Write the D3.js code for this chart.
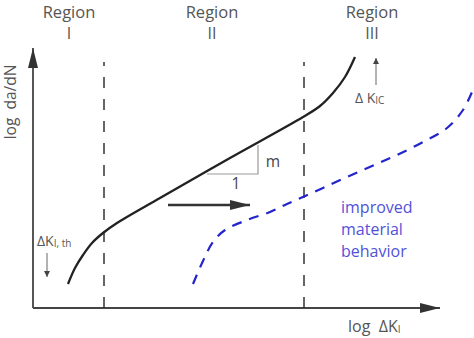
<!DOCTYPE html>
<html>
<head>
<meta charset="utf-8">
<script src="https://cdn.jsdelivr.net/npm/d3@7"></script>
<style>
  html, body { margin: 0; padding: 0; background: #fff; }
  svg { display: block; font-family: "Open Sans", "DejaVu Sans", sans-serif; }
</style>
</head>
<body>
<svg id="chart" width="474" height="338"></svg>
<script>
// Schematic fatigue crack growth curve (log da/dN vs log ΔK), arbitrary log units
const regionNames = ["I", "II", "III"];
const regionLabelX = [9, 44.75, 84.75];
const regionBounds = [17.75, 67.75];

// Reference material: threshold knee, Paris regime, unstable growth
const baseCurve = [
  [8.75, 6], [10.5, 10], [12.5, 13.25], [14.75, 16.25], [17.5, 18.75],
  [21, 21.25], [31.75, 27.5], [49.25, 37.5], [67.5, 47.75],
  [71.75, 50.5], [75, 53.75], [78, 57.75], [80.5, 62.75]
];

// Improved material: curve shifted towards higher ΔK
const improvedCurve = [
  [40, 6], [42.5, 11.75], [45, 16.5], [48, 19.5], [53.5, 22],
  [59.25, 24], [63.5, 26], [67.5, 27.75], [72.5, 30], [78.5, 32.75],
  [84.75, 35.5], [91, 38.25], [97.5, 41.5], [103.5, 45], [107.5, 49.5], [109.75, 54]
];

// Slope triangle (run 1, rise m)
const slopeTriangle = [[43.5, 33.5], [56.25, 33.5], [56.25, 40.75]];
const shiftArrow = [[33.75, 25.75], [54.25, 25.75]];
const thresholdArrow = [[3.5, 13.75], [3.5, 7.75]];
const criticalArrow = [[85.75, 55.75], [85.75, 62.5]];
const improvedLines = ["improved", "material", "behavior"];

const svg = d3.select("#chart");
const x = d3.scaleLinear().domain([0, 100]).range([33, 433]);
const y = d3.scaleLinear().domain([0, 65]).range([308, 48]);

const textColor = "#555";
const lineColor = "#222";
const blue = "#2424cc";

const defs = svg.append("defs");
function marker(id, len, wid, color) {
  defs.append("marker")
    .attr("id", id)
    .attr("markerUnits", "userSpaceOnUse")
    .attr("viewBox", `0 ${-wid / 2} ${len} ${wid}`)
    .attr("refX", len).attr("refY", 0)
    .attr("markerWidth", len).attr("markerHeight", wid)
    .attr("orient", "auto")
    .append("path")
    .attr("d", `M0,${-wid / 2}L${len},0L0,${wid / 2}Z`)
    .attr("fill", color);
}
marker("axisHead", 20, 10, "#333");
marker("bigHead", 20, 10, "#333");
marker("smallHead", 6, 6, "#444");

const line = d3.line().x(d => x(d[0])).y(d => y(d[1]));
const smooth = d3.line().x(d => x(d[0])).y(d => y(d[1])).curve(d3.curveCatmullRom.alpha(0.5));

// Axes
svg.append("path")
  .attr("d", line([[0, 0], [101.75, 0]]))
  .attr("stroke", "#444").attr("stroke-width", 1.8).attr("fill", "none")
  .attr("marker-end", "url(#axisHead)");
svg.append("path")
  .attr("d", line([[0, 0], [0, 65]]))
  .attr("stroke", "#444").attr("stroke-width", 1.8).attr("fill", "none")
  .attr("marker-end", "url(#axisHead)");

// Region boundaries
svg.selectAll("line.bound").data(regionBounds).join("line")
  .attr("class", "bound")
  .attr("x1", d => x(d)).attr("x2", d => x(d))
  .attr("y1", y(0)).attr("y2", y(61.5))
  .attr("stroke", "#333").attr("stroke-width", 1.5)
  .attr("stroke-dasharray", "11 11");

// Region labels
const rg = svg.selectAll("g.region").data(regionNames).join("g").attr("class", "region");
rg.append("text")
  .attr("x", (d, i) => x(regionLabelX[i])).attr("y", 18)
  .attr("text-anchor", "middle").attr("font-size", 16.5).attr("fill", textColor)
  .text("Region");
rg.append("text")
  .attr("x", (d, i) => x(regionLabelX[i])).attr("y", 39)
  .attr("text-anchor", "middle").attr("font-size", 16).attr("fill", textColor)
  .text(d => d);

// Curves
svg.append("path").attr("d", smooth(baseCurve))
  .attr("fill", "none").attr("stroke", lineColor).attr("stroke-width", 2.3);
svg.append("path").attr("d", smooth(improvedCurve))
  .attr("fill", "none").attr("stroke", blue).attr("stroke-width", 2.2)
  .attr("stroke-dasharray", "10 8");

// Slope triangle
svg.append("path").attr("d", line(slopeTriangle))
  .attr("fill", "none").attr("stroke", "#999").attr("stroke-width", 1.2);
svg.append("text").attr("x", x(60)).attr("y", y(35.25))
  .attr("text-anchor", "middle").attr("font-size", 15.5).attr("fill", "#444").text("m");
svg.append("text").attr("x", x(50.75)).attr("y", y(29.75))
  .attr("text-anchor", "middle").attr("font-size", 15.5).attr("fill", "#444").text("1");

// Shift arrow
svg.append("path").attr("d", line(shiftArrow))
  .attr("stroke", "#333").attr("stroke-width", 2.5).attr("fill", "none")
  .attr("marker-end", "url(#bigHead)");

// Threshold and critical arrows
svg.append("path").attr("d", line(thresholdArrow))
  .attr("stroke", "#666").attr("stroke-width", 1).attr("fill", "none")
  .attr("marker-end", "url(#smallHead)");
svg.append("path").attr("d", line(criticalArrow))
  .attr("stroke", "#666").attr("stroke-width", 1).attr("fill", "none")
  .attr("marker-end", "url(#smallHead)");

// ΔK_I,th label
const th = svg.append("text").attr("x", x(1)).attr("y", y(15.5))
  .attr("font-size", 14).attr("fill", textColor);
th.append("tspan").text("ΔK");
th.append("tspan").attr("font-size", 10).attr("dy", 1).text("I, th");

// ΔK_IC label
const ic = svg.append("text").attr("x", x(80.5)).attr("y", y(51.25))
  .attr("font-size", 14).attr("fill", textColor);
ic.append("tspan").text("Δ K");
ic.append("tspan").attr("font-size", 10).attr("dy", 1).text("IC");

// Axis titles
svg.append("text")
  .attr("transform", `translate(${x(-4.25)},${y(51.5)}) rotate(-90)`)
  .attr("text-anchor", "middle").attr("font-size", 15.5).attr("fill", textColor)
  .attr("xml:space", "preserve")
  .text("log  da/dN");
const xt = svg.append("text").attr("x", x(78.75)).attr("y", y(-5.875))
  .attr("font-size", 16).attr("fill", textColor).attr("xml:space", "preserve");
xt.append("tspan").text("log  ΔK");
xt.append("tspan").attr("font-size", 10).attr("dy", 1).text("I");

// Improved material annotation
svg.selectAll("text.improved").data(improvedLines).join("text")
  .attr("class", "improved")
  .attr("x", x(77)).attr("y", (d, i) => y(23.75) + i * 22)
  .attr("font-size", 16).attr("fill", "#5252d8")
  .text(d => d);
</script>
</body>
</html>
